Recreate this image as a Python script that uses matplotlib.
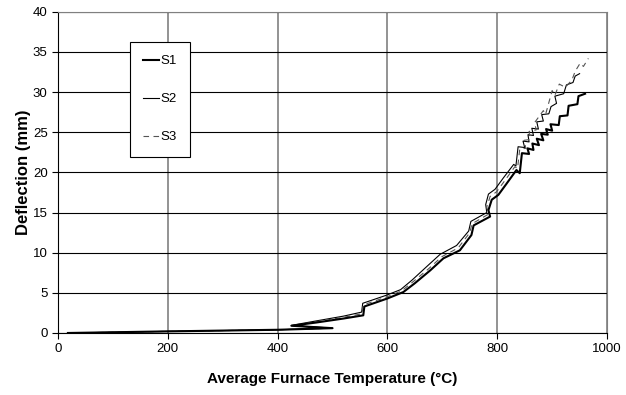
"""Furnace test: deflection against average furnace temperature."""

import matplotlib

matplotlib.use("Agg")

import matplotlib.pyplot as plt  # noqa: E402

plt.rcParams["font.family"] = ["Liberation Sans", "DejaVu Sans"]

# S1 - thick solid
temp_s1 = [18, 200, 400, 500, 425, 470, 520, 556, 558, 600, 629, 650, 678, 702,
           732, 753, 757, 787, 784, 790, 802, 817, 835, 841, 845, 858, 855, 866,
           864, 876, 872, 884, 880, 892, 889, 900, 897, 912, 914, 928, 930, 946,
           948, 960]
defl_s1 = [0, 0.2, 0.4, 0.6, 0.9, 1.3, 1.8, 2.2, 3.3, 4.3, 5.1, 6.2, 7.8, 9.3,
           10.3, 12.2, 13.4, 14.5, 15.3, 16.6, 17.2, 18.6, 20.3, 19.9, 22.4, 22.3,
           23.0, 22.8, 23.6, 23.4, 24.2, 24.0, 24.8, 24.7, 25.4, 25.2, 26.0, 25.9,
           27.0, 27.1, 28.3, 28.5, 29.5, 29.8]

# S2 - thin solid
temp_s2 = [18, 200, 400, 500, 425, 470, 520, 553, 555, 598, 624, 645, 672, 696,
           726, 748, 752, 781, 779, 784, 796, 811, 830, 834, 838, 850, 847, 858,
           856, 866, 863, 875, 872, 884, 881, 894, 898, 908, 905, 921, 926, 938,
           942, 950]
defl_s2 = [0, 0.2, 0.4, 0.6, 0.95, 1.5, 2.1, 2.6, 3.7, 4.7, 5.4, 6.6, 8.3, 9.8,
           10.9, 12.7, 13.9, 15.0, 16.0, 17.3, 17.9, 19.3, 21.0, 20.8, 23.2, 23.1,
           23.9, 23.8, 24.7, 24.6, 25.5, 25.4, 26.3, 26.4, 27.2, 27.3, 28.2, 28.6,
           29.5, 29.8, 30.9, 31.2, 32.0, 32.3]

# S3 - dashed
temp_s3 = [18, 200, 400, 500, 425, 470, 520, 554, 556, 599, 626, 647, 675, 699,
           729, 750, 754, 784, 781, 787, 799, 814, 832, 837, 841, 852, 849, 860,
           858, 871, 868, 884, 888, 900, 905, 913, 924, 936, 942, 951, 957, 966]
defl_s3 = [0, 0.2, 0.4, 0.6, 0.9, 1.4, 1.95, 2.4, 3.5, 4.5, 5.25, 6.4, 8.0, 9.5,
           10.6, 12.5, 13.6, 14.8, 15.7, 17.0, 17.6, 19.0, 20.7, 20.5, 22.9, 23.0,
           24.0, 24.1, 25.1, 25.3, 26.2, 27.7, 27.2, 30.2, 29.6, 31.0, 30.6, 31.5,
           32.6, 33.6, 33.2, 34.2]

fig = plt.figure(figsize=(6.26, 3.95), dpi=100)
ax = fig.add_axes([0.0927, 0.157, 0.877, 0.813])

ax.plot(temp_s1, defl_s1, color="black", lw=1.5, label="S1", zorder=4)
ax.plot(temp_s2, defl_s2, color="black", lw=0.8, label="S2", zorder=3)
ax.plot(temp_s3, defl_s3, color="#555555", lw=0.8, ls=(0, (5, 4)), label="S3", zorder=3)

ax.set_xlim(0, 1000)
ax.set_ylim(0, 40)
ax.set_xticks(range(0, 1001, 200))
ax.set_yticks(range(0, 41, 5))
ax.tick_params(labelsize=9.5, length=4, width=0.8, color="black", direction="out")
ax.grid(axis="y", color="black", lw=0.8)
ax.grid(axis="x", color="#808080", lw=1.2)
ax.set_axisbelow(True)
for side in ("top", "right"):
    ax.spines[side].set_color("#808080")
for side in ("left", "bottom"):
    ax.spines[side].set_color("black")

ax.set_xlabel("Average Furnace Temperature (°C)", fontsize=11, fontweight="bold", labelpad=12)
ax.set_ylabel("Deflection (mm)", fontsize=12, fontweight="bold", labelpad=1)

leg = ax.legend(loc="upper left", bbox_to_anchor=(0.131, 0.906), fontsize=9.5,
                frameon=True, fancybox=False, edgecolor="black", framealpha=1,
                labelspacing=1.95, handlelength=1.2, handletextpad=0.1,
                borderpad=1.0, borderaxespad=0)
leg.get_frame().set_linewidth(0.8)
leg.set_zorder(10)

fig.savefig("out.png", dpi=100)
plt.close(fig)
